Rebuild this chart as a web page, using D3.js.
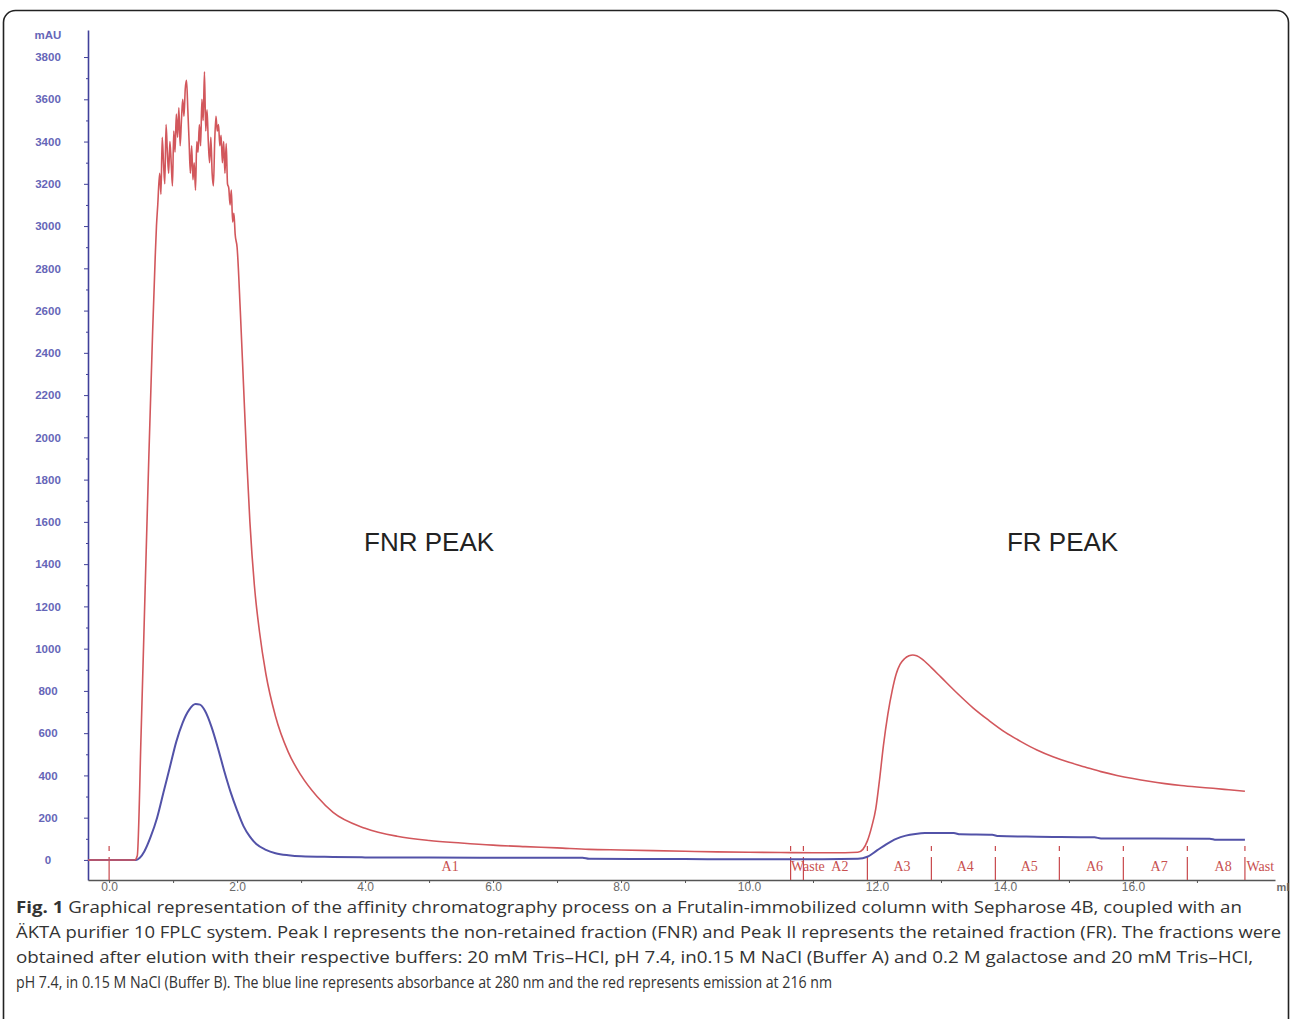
<!DOCTYPE html>
<html>
<head>
<meta charset="utf-8">
<script src="https://cdn.jsdelivr.net/npm/d3@7"></script>
<style>
  html, body { margin: 0; padding: 0; background: #fff; }
  svg { display: block; }
</style>
</head>
<body>
<div id="chart"></div>
<script>
// chromatogram values (ml, mAU)
var yTicks = d3.range(0, 3801, 200);
var xTicks = [0, 2, 4, 6, 8, 10, 12, 14, 16];

var blueTrace = [
  [-0.33, 0], [0.42, 0], [0.48, 10], [0.55, 40], [0.65, 110], [0.75, 200], [0.85, 320],
  [0.95, 440], [1.05, 560], [1.15, 650], [1.25, 710], [1.35, 738], [1.42, 735], [1.5, 705],
  [1.6, 630], [1.7, 530], [1.8, 420], [1.9, 320], [2.0, 235], [2.1, 160], [2.2, 110],
  [2.3, 75], [2.45, 48], [2.6, 32], [2.8, 22], [3.0, 17], [3.5, 14], [4.0, 12], [5.0, 11],
  [6.0, 10], [7.4, 10], [7.5, 5], [9.0, 4], [10.0, 3], [11.0, 3], [11.7, 5], [11.85, 15],
  [12.0, 45], [12.15, 75], [12.3, 100], [12.45, 115], [12.6, 123], [12.75, 127], [13.2, 127],
  [13.3, 121], [13.8, 119], [13.9, 113], [14.5, 110], [15.4, 107], [15.5, 102], [17.2, 100],
  [17.3, 95], [17.75, 95]
];

var redTrace = [
  [-0.33, 0], [0.40, 0], [0.44, 20], [0.50, 600], [0.56, 1250], [0.62, 1900], [0.68, 2500],
  [0.72, 2850], [0.74, 3000], [0.76, 3100], [0.79, 3250], [0.81, 3150], [0.83, 3420],
  [0.85, 3300], [0.87, 3200], [0.89, 3480], [0.91, 3350], [0.93, 3250], [0.95, 3400],
  [0.97, 3300], [0.99, 3190], [1.01, 3450], [1.03, 3350], [1.05, 3530], [1.07, 3420],
  [1.09, 3560], [1.11, 3380], [1.13, 3500], [1.15, 3600], [1.17, 3520], [1.19, 3650],
  [1.21, 3690], [1.23, 3550], [1.25, 3400], [1.27, 3250], [1.29, 3380], [1.31, 3220],
  [1.33, 3300], [1.35, 3170], [1.37, 3400], [1.39, 3350], [1.41, 3480], [1.43, 3380],
  [1.45, 3600], [1.47, 3500], [1.49, 3730], [1.51, 3450], [1.53, 3550], [1.55, 3400],
  [1.57, 3300], [1.59, 3420], [1.61, 3250], [1.63, 3190], [1.65, 3400], [1.67, 3520],
  [1.69, 3450], [1.71, 3480], [1.73, 3380], [1.75, 3430], [1.77, 3300], [1.79, 3400],
  [1.81, 3250], [1.83, 3390], [1.85, 3200], [1.87, 3180], [1.89, 3100], [1.91, 3170],
  [1.93, 3020], [1.95, 3060], [1.97, 2960], [2.0, 2900], [2.05, 2600], [2.1, 2250],
  [2.15, 1900], [2.2, 1600], [2.27, 1300], [2.35, 1080], [2.45, 880], [2.6, 680], [2.8, 510],
  [3.0, 400], [3.25, 300], [3.5, 225], [4.0, 150], [4.5, 112], [5.0, 92], [5.5, 80],
  [6.0, 70], [6.5, 63], [7.0, 57], [7.5, 50], [8.0, 47], [8.5, 44], [9.0, 41], [9.5, 38],
  [10.0, 36], [10.5, 35], [11.0, 34], [11.5, 34], [11.7, 36], [11.78, 50], [11.85, 90],
  [11.92, 160], [11.98, 240], [12.04, 380], [12.1, 540], [12.17, 690], [12.24, 805],
  [12.3, 880], [12.36, 925], [12.43, 952], [12.5, 966], [12.56, 970], [12.62, 966],
  [12.7, 952], [12.85, 910], [13.0, 865], [13.25, 790], [13.5, 720], [13.75, 660],
  [14.0, 605], [14.25, 560], [14.5, 520], [14.75, 488], [15.0, 462], [15.25, 440],
  [15.5, 418], [15.75, 400], [16.0, 385], [16.25, 372], [16.5, 361], [16.75, 352],
  [17.0, 345], [17.25, 339], [17.5, 332], [17.75, 325]
];

// fraction collector marks
var fracMarks = [0.0, 10.65, 10.85, 11.85, 12.85, 13.85, 14.85, 15.85, 16.85, 17.75];
var fracNames = ['A1', 'Waste', 'A2', 'A3', 'A4', 'A5', 'A6', 'A7', 'A8', 'Wast'];
var fracAt = [5.33, 10.92, 11.42, 12.39, 13.38, 14.38, 15.4, 16.41, 17.41, 17.99];

var peakNames = ['FNR PEAK', 'FR PEAK'];
var peakAt = [[5.0, 1450], [14.9, 1450]];

var captionBold = 'Fig. 1';
var captionLines = [
  ' Graphical representation of the affinity chromatography process on a Frutalin-immobilized column with Sepharose 4B, coupled with an',
  '\u00c4KTA purifier 10 FPLC system. Peak I represents the non-retained fraction (FNR) and Peak II represents the retained fraction (FR). The fractions were',
  'obtained after elution with their respective buffers: 20 mM Tris\u2013HCl, pH 7.4, in0.15 M NaCl (Buffer A) and 0.2 M galactose and 20 mM Tris\u2013HCl,',
  'pH 7.4, in 0.15 M NaCl (Buffer B). The blue line represents absorbance at 280 nm and the red represents emission at 216 nm'
];
var captionWidths = [1226, 1265, 1237, 816];

var W = 1292, H = 1019;
var svg = d3.select('#chart').append('svg')
  .attr('width', W).attr('height', H)
  .attr('xmlns', 'http://www.w3.org/2000/svg');

// frame
svg.append('rect')
  .attr('x', 3.5).attr('y', 10.5)
  .attr('width', 1285).attr('height', 1030)
  .attr('rx', 12)
  .style('fill', 'none').style('stroke', '#222').style('stroke-width', 1.6);

var x = d3.scaleLinear().domain([-0.33, 18.22]).range([88, 1275]);
var y = d3.scaleLinear().domain([-95, 3928]).range([880, 30]);

var axisFont = 'Arial, "Liberation Sans", sans-serif';

// y axis
var yAxis = svg.append('g').attr('transform', 'translate(88,0)')
  .call(d3.axisLeft(y).tickValues(yTicks).tickSize(4).tickSizeOuter(0)
    .tickFormat(d3.format('d')));
yAxis.select('.domain').style('stroke', '#40409a').style('stroke-width', 1.6);
yAxis.selectAll('.tick line').style('stroke', '#40409a');
yAxis.selectAll('.tick text')
  .attr('x', -40).attr('text-anchor', 'middle')
  .style('font-family', axisFont)
  .style('font-size', '11.5px').style('font-weight', 'bold')
  .style('fill', '#6666b8');

svg.append('g').attr('transform', 'translate(88,0)')
  .call(d3.axisLeft(y).tickValues(d3.range(100, 3900, 200)).tickSize(2).tickFormat(''))
  .call(function(g) { g.select('.domain').remove(); })
  .selectAll('line').style('stroke', '#40409a');

svg.append('text')
  .attr('x', 48).attr('y', 39)
  .attr('text-anchor', 'middle')
  .style('font-family', axisFont)
  .style('font-size', '11.5px').style('font-weight', 'bold')
  .style('fill', '#6666b8')
  .text('mAU');

// x axis
var xAxis = svg.append('g').attr('transform', 'translate(0,880)')
  .call(d3.axisBottom(x).tickValues(xTicks).tickSize(3).tickSizeOuter(0)
    .tickFormat(d3.format('.1f')));
xAxis.select('.domain').style('stroke', '#555').style('stroke-width', 1.6);
xAxis.selectAll('.tick line').style('stroke', '#555');
xAxis.selectAll('.tick text')
  .attr('y', 2)
  .style('font-family', axisFont)
  .style('font-size', '12px')
  .style('fill', '#6a6a6a');

svg.append('g').attr('transform', 'translate(0,880)')
  .call(d3.axisBottom(x).tickValues(d3.range(1, 18, 2)).tickSize(3).tickFormat(''))
  .call(function(g) { g.select('.domain').remove(); })
  .selectAll('line').style('stroke', '#555');

svg.append('text')
  .attr('x', 1283).attr('y', 891)
  .attr('text-anchor', 'middle')
  .style('font-family', axisFont)
  .style('font-size', '11px').style('font-weight', 'bold')
  .style('fill', '#6a6a6a')
  .text('ml');

// fraction marks and names
var marks = svg.append('g').attr('class', 'fractions');
marks.selectAll('.frac-line').data(fracMarks).enter()
  .append('line')
  .attr('class', 'frac-line')
  .attr('x1', function(d) { return x(d); }).attr('x2', function(d) { return x(d); })
  .attr('y1', 880).attr('y2', 857)
  .style('stroke', '#c8484c').style('stroke-width', 1.2);
marks.selectAll('.frac-dot').data(fracMarks).enter()
  .append('line')
  .attr('class', 'frac-dot')
  .attr('x1', function(d) { return x(d); }).attr('x2', function(d) { return x(d); })
  .attr('y1', 846).attr('y2', 851)
  .style('stroke', '#c8484c').style('stroke-width', 1.2);
marks.selectAll('.frac-name').data(fracNames).enter()
  .append('text')
  .attr('class', 'frac-name')
  .attr('x', function(d, i) { return x(fracAt[i]); })
  .attr('y', 871)
  .attr('text-anchor', 'middle')
  .style('font-family', '"Liberation Serif", "Times New Roman", serif')
  .style('font-size', '14px')
  .style('fill', '#c8504f')
  .text(function(d) { return d; });

// traces
var line = d3.line()
  .x(function(d) { return x(d[0]); })
  .y(function(d) { return y(d[1]); })
  .curve(d3.curveMonotoneX);

svg.append('path')
  .datum(blueTrace)
  .attr('d', line)
  .style('fill', 'none').style('stroke', '#5252a8').style('stroke-width', 2);

svg.append('path')
  .datum(redTrace)
  .attr('d', line)
  .style('fill', 'none').style('stroke', '#d2575c').style('stroke-width', 1.6);

// peak labels
svg.selectAll('.peak-name').data(peakNames).enter()
  .append('text')
  .attr('class', 'peak-name')
  .attr('x', function(d, i) { return x(peakAt[i][0]); })
  .attr('y', 551)
  .attr('text-anchor', 'middle')
  .style('font-family', axisFont)
  .style('font-size', '26px')
  .style('fill', '#222')
  .text(function(d) { return d; });

// caption
var cap = svg.append('g').attr('class', 'caption');
captionLines.forEach(function(t, i) {
  var tx = cap.append('text')
    .attr('x', 16).attr('y', 913 + 25 * i)
    .attr('textLength', captionWidths[i])
    .attr('lengthAdjust', 'spacingAndGlyphs')
    .style('font-family', '"Open Sans", "Noto Sans", sans-serif')
    .style('font-size', '16.5px')
    .style('fill', '#333');
  if (i === 0) {
    tx.append('tspan').style('font-weight', 'bold').text(captionBold);
  }
  tx.append('tspan').text(t);
});
</script>
</body>
</html>
